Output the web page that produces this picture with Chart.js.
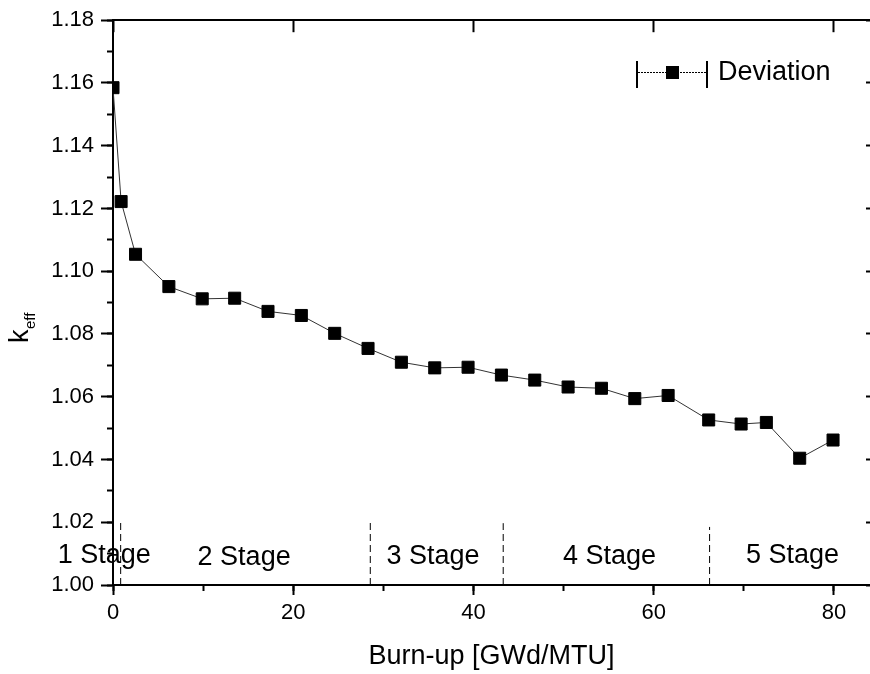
<!DOCTYPE html>
<html>
<head>
<meta charset="utf-8">
<script src="https://cdn.jsdelivr.net/npm/chart.js@4/dist/chart.umd.min.js"></script>
<style>
  html, body { margin: 0; padding: 0; background: #fff; }
  #wrap { width: 870px; height: 674px; }
</style>
</head>
<body>
<div id="wrap"><canvas id="keffChart" width="870" height="674"></canvas></div>
<script>
// burn-up steps and k-eff values
const burnup = [0, 0.9, 2.5, 6.2, 9.9, 13.5, 17.2, 20.9, 24.6, 28.3, 32.0, 35.7,
                39.4, 43.1, 46.8, 50.5, 54.2, 57.9, 61.6, 66.1, 69.7, 72.5, 76.2, 79.9];
const keff = [1.1585, 1.1222, 1.1054, 1.0951, 1.0912, 1.0914, 1.0872, 1.0859, 1.0802, 1.0754, 1.0710, 1.0692,
              1.0694, 1.0669, 1.0653, 1.0631, 1.0627, 1.0594, 1.0604, 1.0526, 1.0513, 1.0518, 1.0404, 1.0462];

// stage boundaries (dashed lines) and stage captions
const stageBounds = [0.85, 28.55, 43.3, 66.2];
const stageTops = [1.021, 1.020, 1.0197, 1.0185];
const stageNames = ['1 Stage', '2 Stage', '3 Stage', '4 Stage', '5 Stage'];
const stageNameX = [-0.96, 14.55, 35.5, 55.1, 75.4];
const stageNameY = [1.0093, 1.0086, 1.0092, 1.0092, 1.0095];

const seriesName = 'Deviation';
const xTitle = 'Burn-up [GWd/MTU]';
const xMin = 0, xMax = 84, yMin = 1.00, yMax = 1.18;

const FONT = '"Liberation Sans", Arial, sans-serif';
Chart.defaults.font.family = FONT;
Chart.defaults.color = '#000';

const points = burnup.map((b, i) => ({ x: b, y: keff[i] }));

const dividerSets = stageBounds.map((b, i) => ({
    data: [{ x: b, y: yMin }, { x: b, y: stageTops[i] }],
    borderColor: '#000',
    borderWidth: 1,
    borderDash: [7, 4],
    pointRadius: 0,
    fill: false
}));

const decorations = {
    id: 'decorations',
    afterDraw(chart) {
        const ctx = chart.ctx;
        const xs = chart.scales.x, ys = chart.scales.y;
        ctx.save();
        ctx.fillStyle = '#000';

        // stage captions
        ctx.font = '27px ' + FONT;
        ctx.textAlign = 'center';
        ctx.textBaseline = 'middle';
        stageNames.forEach((s, i) => {
            ctx.fillText(s, xs.getPixelForValue(stageNameX[i]), ys.getPixelForValue(stageNameY[i]));
        });

        // legend  |--■--| Deviation
        ctx.strokeStyle = '#000';
        ctx.lineWidth = 2;
        ctx.beginPath();
        ctx.moveTo(637, 61); ctx.lineTo(637, 88);
        ctx.moveTo(707, 61); ctx.lineTo(707, 88);
        ctx.stroke();
        ctx.lineWidth = 1;
        ctx.setLineDash([2, 1]);
        ctx.beginPath();
        ctx.moveTo(638, 72.5); ctx.lineTo(706, 72.5);
        ctx.stroke();
        ctx.setLineDash([]);
        ctx.fillRect(666, 66, 13, 13);
        ctx.textAlign = 'left';
        ctx.fillText(seriesName, 718, 73);

        // y title: k with subscript eff
        ctx.translate(28, 343);
        ctx.rotate(-Math.PI / 2);
        ctx.textBaseline = 'alphabetic';
        ctx.font = '27px ' + FONT;
        ctx.fillText('k', 0, 0);
        ctx.font = '15px ' + FONT;
        ctx.fillText('eff', 14, 7);
        ctx.restore();
    }
};

new Chart(document.getElementById('keffChart'), {
    type: 'line',
    data: {
        datasets: [{
            label: seriesName,
            data: points,
            borderColor: '#333',
            borderWidth: 1,
            pointStyle: 'rect',
            pointRadius: 8.5,
            pointHoverRadius: 8.5,
            pointBackgroundColor: '#000',
            pointBorderColor: '#000',
            pointBorderWidth: 1,
            tension: 0,
            fill: false
        }].concat(dividerSets)
    },
    options: {
        responsive: false,
        animation: false,
        devicePixelRatio: 1,
        layout: { autoPadding: false, padding: { top: 16, left: 0, right: 0, bottom: 0 } },
        plugins: {
            legend: { display: false },
            tooltip: { enabled: false }
        },
        scales: {
            x: {
                type: 'linear', position: 'bottom', weight: 1,
                min: xMin, max: xMax,
                ticks: { stepSize: 20, includeBounds: false, font: { size: 22 }, color: '#000', padding: 5, maxRotation: 0 },
                grid: { drawOnChartArea: false, tickLength: 10, tickWidth: 2, tickColor: '#000' },
                border: { color: '#000', width: 2 },
                title: { display: true, text: xTitle, font: { size: 27 }, color: '#000', padding: { top: 0, bottom: 1 } },
                afterFit: (s) => { s.height = 89; s.paddingRight = 0; }
            },
            xMinor: {
                type: 'linear', position: 'bottom', weight: 0,
                min: xMin, max: xMax,
                ticks: { display: false, stepSize: 10, includeBounds: false, autoSkip: false },
                grid: { drawOnChartArea: false, tickLength: 6, tickWidth: 2, tickColor: '#000' },
                border: { display: false },
                afterFit: (s) => { s.height = 0; }
            },
            xTop: {
                type: 'linear', position: 'top',
                min: xMin, max: xMax,
                ticks: { display: false, stepSize: 20, includeBounds: false },
                grid: { drawOnChartArea: false, tickLength: -12, tickWidth: 2, tickColor: '#000' },
                border: { color: '#000', width: 2 },
                afterFit: (s) => { s.height = 0; }
            },
            y: {
                type: 'linear', position: 'left', weight: 1,
                min: yMin, max: yMax,
                ticks: { stepSize: 0.02, includeBounds: false, font: { size: 22 }, color: '#000', padding: 7,
                         callback: (v) => v.toFixed(2) },
                grid: { drawOnChartArea: false, tickLength: 12, tickWidth: 2, tickColor: '#000' },
                border: { color: '#000', width: 2 },
                afterFit: (s) => { s.width = 113; }
            },
            yMinor: {
                type: 'linear', position: 'left', weight: 0,
                min: yMin, max: yMax,
                ticks: { display: false, stepSize: 0.01, includeBounds: false, autoSkip: false },
                grid: { drawOnChartArea: false, tickLength: 6, tickWidth: 2, tickColor: '#000' },
                border: { display: false },
                afterFit: (s) => { s.width = 0; }
            },
            yRight: {
                type: 'linear', position: 'right',
                min: yMin, max: yMax,
                ticks: { display: false, stepSize: 0.02, includeBounds: false },
                grid: { drawOnChartArea: false, tickLength: -4, tickWidth: 2, tickColor: '#000' },
                border: { display: false },
                afterFit: (s) => { s.width = 0; }
            }
        }
    },
    plugins: [decorations]
});
</script>
</body>
</html>
